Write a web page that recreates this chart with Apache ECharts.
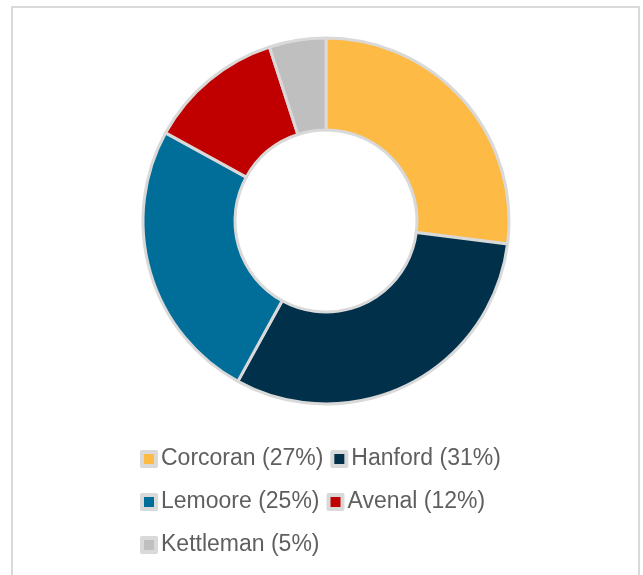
<!DOCTYPE html>
<html>
<head>
<meta charset="utf-8">
<script src="https://cdn.jsdelivr.net/npm/echarts@6/dist/echarts.min.js"></script>
<style>
  html, body { margin: 0; padding: 0; background: #fff; }
  #pie { width: 643px; height: 575px; }
</style>
</head>
<body>
<div id="pie"></div>
<script>
  // donut data
  var names = ['Corcoran', 'Hanford', 'Lemoore', 'Avenal', 'Kettleman'];
  var values = [27, 31, 25, 12, 5];
  var colors = ['#FDBA45', '#00304A', '#006E98', '#C00000', '#BFBFBF'];

  var myChart = echarts.init(document.getElementById('pie'));

  var pieData = names.map(function (n, i) {
    return { name: n, value: values[i], itemStyle: { color: colors[i] } };
  });

  var option = {
    backgroundColor: '#fff',
    animation: false,
    graphic: [{
      type: 'rect',
      shape: { x: 12, y: 7, width: 627, height: 600 },
      style: { fill: 'none', stroke: '#d9d9d9', lineWidth: 2 },
      silent: true
    }],
    legend: {
      left: 135,
      top: 436,
      width: 380,
      itemWidth: 14,
      itemHeight: 14,
      itemGap: 7,
      icon: 'rect',
      itemStyle: { borderColor: '#d9d9d9', borderWidth: 4 },
      textStyle: {
        fontFamily: 'Liberation Sans, Arial, sans-serif',
        fontSize: 23,
        color: '#5f5f5f',
        lineHeight: 36
      },
      formatter: function (name) {
        var i = names.indexOf(name);
        return name + ' (' + values[i] + '%)';
      },
      data: names
    },
    series: [{
      type: 'pie',
      center: [326, 221],
      radius: [91, 183],
      startAngle: 90,
      clockwise: true,
      label: { show: false },
      labelLine: { show: false },
      itemStyle: { borderColor: '#d9d9d9', borderWidth: 3 },
      emphasis: { disabled: true },
      data: pieData
    }]
  };
  myChart.setOption(option);
</script>
</body>
</html>
